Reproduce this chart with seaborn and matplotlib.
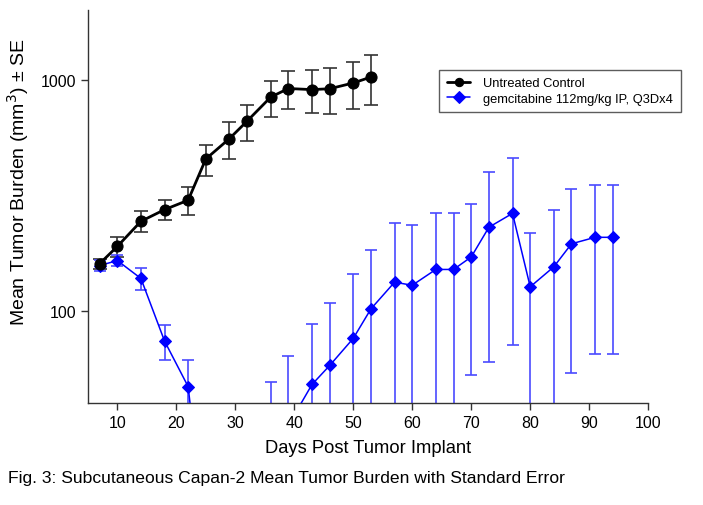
import matplotlib
matplotlib.use("Agg")
import matplotlib.pyplot as plt
import seaborn as sns
import numpy as np
import pandas as pd

# Data
ctrl_days = [7, 10, 14, 18, 22, 25, 29, 32, 36, 39, 43, 46, 50, 53]
ctrl_mean = [160, 190, 244, 274, 301, 454, 556, 662, 841, 916, 906, 914, 968, 1027]
ctrl_se = [8, 19, 25, 27, 41, 69, 101, 119, 151, 170, 191, 205, 224, 251]

gem_days = [7, 10, 14, 18, 22, 25, 29, 32, 36, 39, 43, 46, 50, 53, 57, 60, 64, 67,
            70, 73, 77, 80, 84, 87, 91, 94]
gem_mean = [157, 165, 138, 74, 47, 10, 8, 12, 25, 32, 48, 58, 76, 102, 133, 129, 151, 151,
            171, 230, 264, 127, 155, 195, 208, 208]
gem_se = [9, 9, 15, 12.5, 14, 5, 4, 6, 24, 32, 40, 50, 68, 81, 106, 107, 114, 114,
          118, 170, 193, 91, 118, 141, 143, 143]

x_ticks = [10, 20, 30, 40, 50, 60, 70, 80, 90, 100]
y_ticks = [100, 1000]

ctrl_label = "Untreated Control"
gem_label = "gemcitabine 112mg/kg IP, Q3Dx4"

sns.set_style("ticks")
plt.rcParams['font.family'] = ['Liberation Sans', 'DejaVu Sans']
plt.rcParams['text.color'] = 'black'
plt.rcParams['axes.labelcolor'] = 'black'
plt.rcParams['xtick.labelcolor'] = 'black'
plt.rcParams['ytick.labelcolor'] = 'black'

fig = plt.figure(figsize=(7.03, 5.06), dpi=100)
ax = fig.add_axes([0.125, 0.202, 0.797, 0.776])

df_c = pd.DataFrame({"day": ctrl_days, "v": ctrl_mean})
df_g = pd.DataFrame({"day": gem_days, "v": gem_mean})

ax.errorbar(ctrl_days, ctrl_mean, yerr=ctrl_se, fmt='none', ecolor='#333333',
            elinewidth=1.2, capsize=5, capthick=1.2, zorder=2)
ax.errorbar(gem_days, gem_mean, yerr=gem_se, fmt='none', ecolor='#4a4aff',
            elinewidth=1.2, capsize=4, capthick=1.2, zorder=2)

sns.lineplot(data=df_c, x="day", y="v", ax=ax, color='black', linewidth=2,
             marker='o', markersize=8, markeredgecolor='black', label=ctrl_label, zorder=4)
sns.lineplot(data=df_g, x="day", y="v", ax=ax, color='#0000ff', linewidth=1.1,
             marker='D', markersize=6.5, markeredgecolor='#0000ff', label=gem_label, zorder=3)

ax.set_yscale('log')
ax.set_ylim(40, 2000)
ax.set_xlim(5, 100)
ax.set_yticks(y_ticks)
ax.set_yticklabels([str(t) for t in y_ticks])
ax.yaxis.set_minor_locator(matplotlib.ticker.NullLocator())
ax.set_xticks(x_ticks)
ax.set_xticklabels([str(t) for t in x_ticks])
ax.tick_params(axis='both', labelsize=11.5, length=5, width=1, color='#333333',
               labelcolor='black')

for s in ['top', 'right']:
    ax.spines[s].set_visible(False)
for s in ['left', 'bottom']:
    ax.spines[s].set_color('#333333')
    ax.spines[s].set_linewidth(1)

ax.set_xlabel("Days Post Tumor Implant", fontsize=13.2, labelpad=7)
ax.set_ylabel("Mean Tumor Burden (mm$^3$) ± SE", fontsize=14)
ax.yaxis.set_label_coords(-0.102, 0.565)

leg = ax.legend(loc='upper right', bbox_to_anchor=(1.07, 0.865), fontsize=9.3,
                frameon=True, fancybox=False, edgecolor='#333333', borderpad=0.6,
                handlelength=1.8, handletextpad=1.0, labelspacing=0.25)
leg.get_frame().set_linewidth(1)
for h in leg.legend_handles:
    h.set_markersize(6)

fig.text(0.012, 0.055, "Fig. 3: Subcutaneous Capan-2 Mean Tumor Burden with Standard Error",
         fontsize=12.6, ha='left', va='center')

fig.savefig("out.png", dpi=100)
